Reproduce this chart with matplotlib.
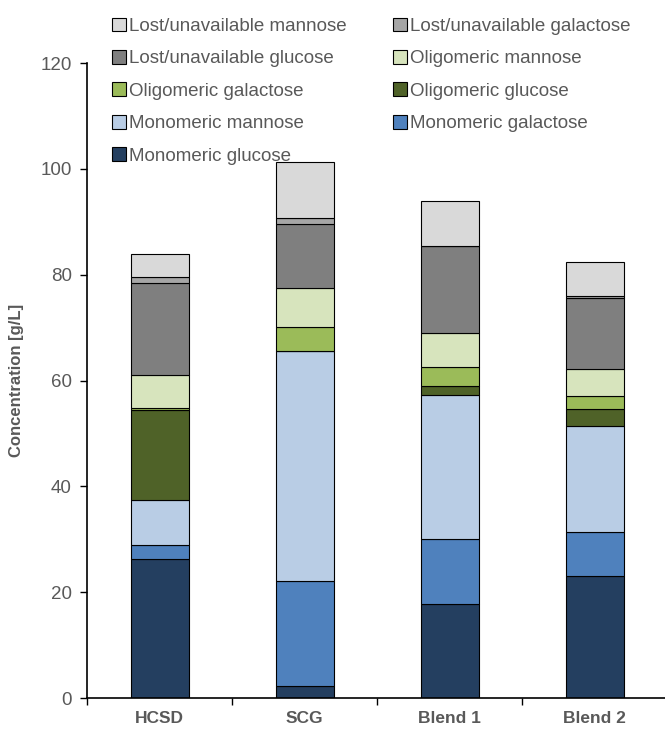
import matplotlib
matplotlib.use("Agg")
import matplotlib.pyplot as plt
import numpy as np

plt.rcParams['font.family'] = ['Liberation Sans', 'DejaVu Sans']

samples = ["HCSD", "SCG", "Blend 1", "Blend 2"]

# stacked segment heights (g/L), bottom to top
mono_glucose = [26.3, 2.3, 17.8, 23.1]
mono_galactose = [2.6, 19.8, 12.3, 8.3]
mono_mannose = [8.5, 43.5, 27.2, 20.0]
oligo_glucose = [17.0, 0.0, 1.7, 3.2]
oligo_galactose = [0.4, 4.5, 3.6, 2.5]
oligo_mannose = [6.3, 7.4, 6.4, 5.1]
lost_glucose = [17.3, 12.1, 16.4, 13.4]
lost_galactose = [1.2, 1.1, 0.1, 0.4]
lost_mannose = [4.3, 10.6, 8.4, 6.4]

series = [
    ("Monomeric glucose", mono_glucose, "#243F60"),
    ("Monomeric galactose", mono_galactose, "#4F81BD"),
    ("Monomeric mannose", mono_mannose, "#B9CDE5"),
    ("Oligomeric glucose", oligo_glucose, "#4F6228"),
    ("Oligomeric galactose", oligo_galactose, "#9BBB59"),
    ("Oligomeric mannose", oligo_mannose, "#D7E4BD"),
    ("Lost/unavailable glucose", lost_glucose, "#7F7F7F"),
    ("Lost/unavailable galactose", lost_galactose, "#A6A6A6"),
    ("Lost/unavailable mannose", lost_mannose, "#D9D9D9"),
]

grey = "#595959"
fig = plt.figure(figsize=(6.65, 7.31), dpi=100)
ax = fig.add_axes([0.131, 0.0451, 0.872, 0.8687])

x = np.arange(len(samples))
bottom = np.zeros(len(samples))
handles = {}
for name, vals, col in series:
    vals = np.array(vals)
    b = ax.bar(x, vals, 0.4, bottom=bottom, color=col, edgecolor="black",
               linewidth=0.8, label=name)
    handles[name] = b
    bottom += vals

ax.set_xlim(-0.5, 3.5)
ax.set_ylim(0, 120)
ax.set_yticks(np.arange(0, 121, 20))
ax.set_xticks(x)
ax.set_xticklabels(samples, fontweight="bold", fontsize=12.5, color=grey)
ax.set_xticks([-0.5, 0.5, 1.5, 2.5, 3.5], minor=True)
ax.tick_params(axis="x", which="major", length=0, pad=9)
ax.tick_params(axis="x", which="minor", length=5, direction="out", width=1)
ax.tick_params(axis="y", length=5, width=1, labelsize=13.5, labelcolor=grey, pad=6)
ax.set_ylabel("Concentration [g/L]", fontweight="bold", fontsize=12, color=grey, labelpad=12)
for s in ["top", "right"]:
    ax.spines[s].set_visible(False)
for s in ["left", "bottom"]:
    ax.spines[s].set_linewidth(1.2)

# legend filled column-wise: first column then second
order = ["Lost/unavailable mannose", "Lost/unavailable glucose", "Oligomeric galactose",
         "Monomeric mannose", "Monomeric glucose",
         "Lost/unavailable galactose", "Oligomeric mannose", "Oligomeric glucose",
         "Monomeric galactose"]
leg = fig.legend([handles[n] for n in order], order, loc="upper left",
                 bbox_to_anchor=(0.143, 0.999), ncol=2, frameon=False,
                 fontsize=13.5, handlelength=0.75, handleheight=0.75,
                 handletextpad=0.15, labelspacing=0.8, columnspacing=2.5)
for t in leg.get_texts():
    t.set_color(grey)

fig.savefig("out.png", dpi=100)
